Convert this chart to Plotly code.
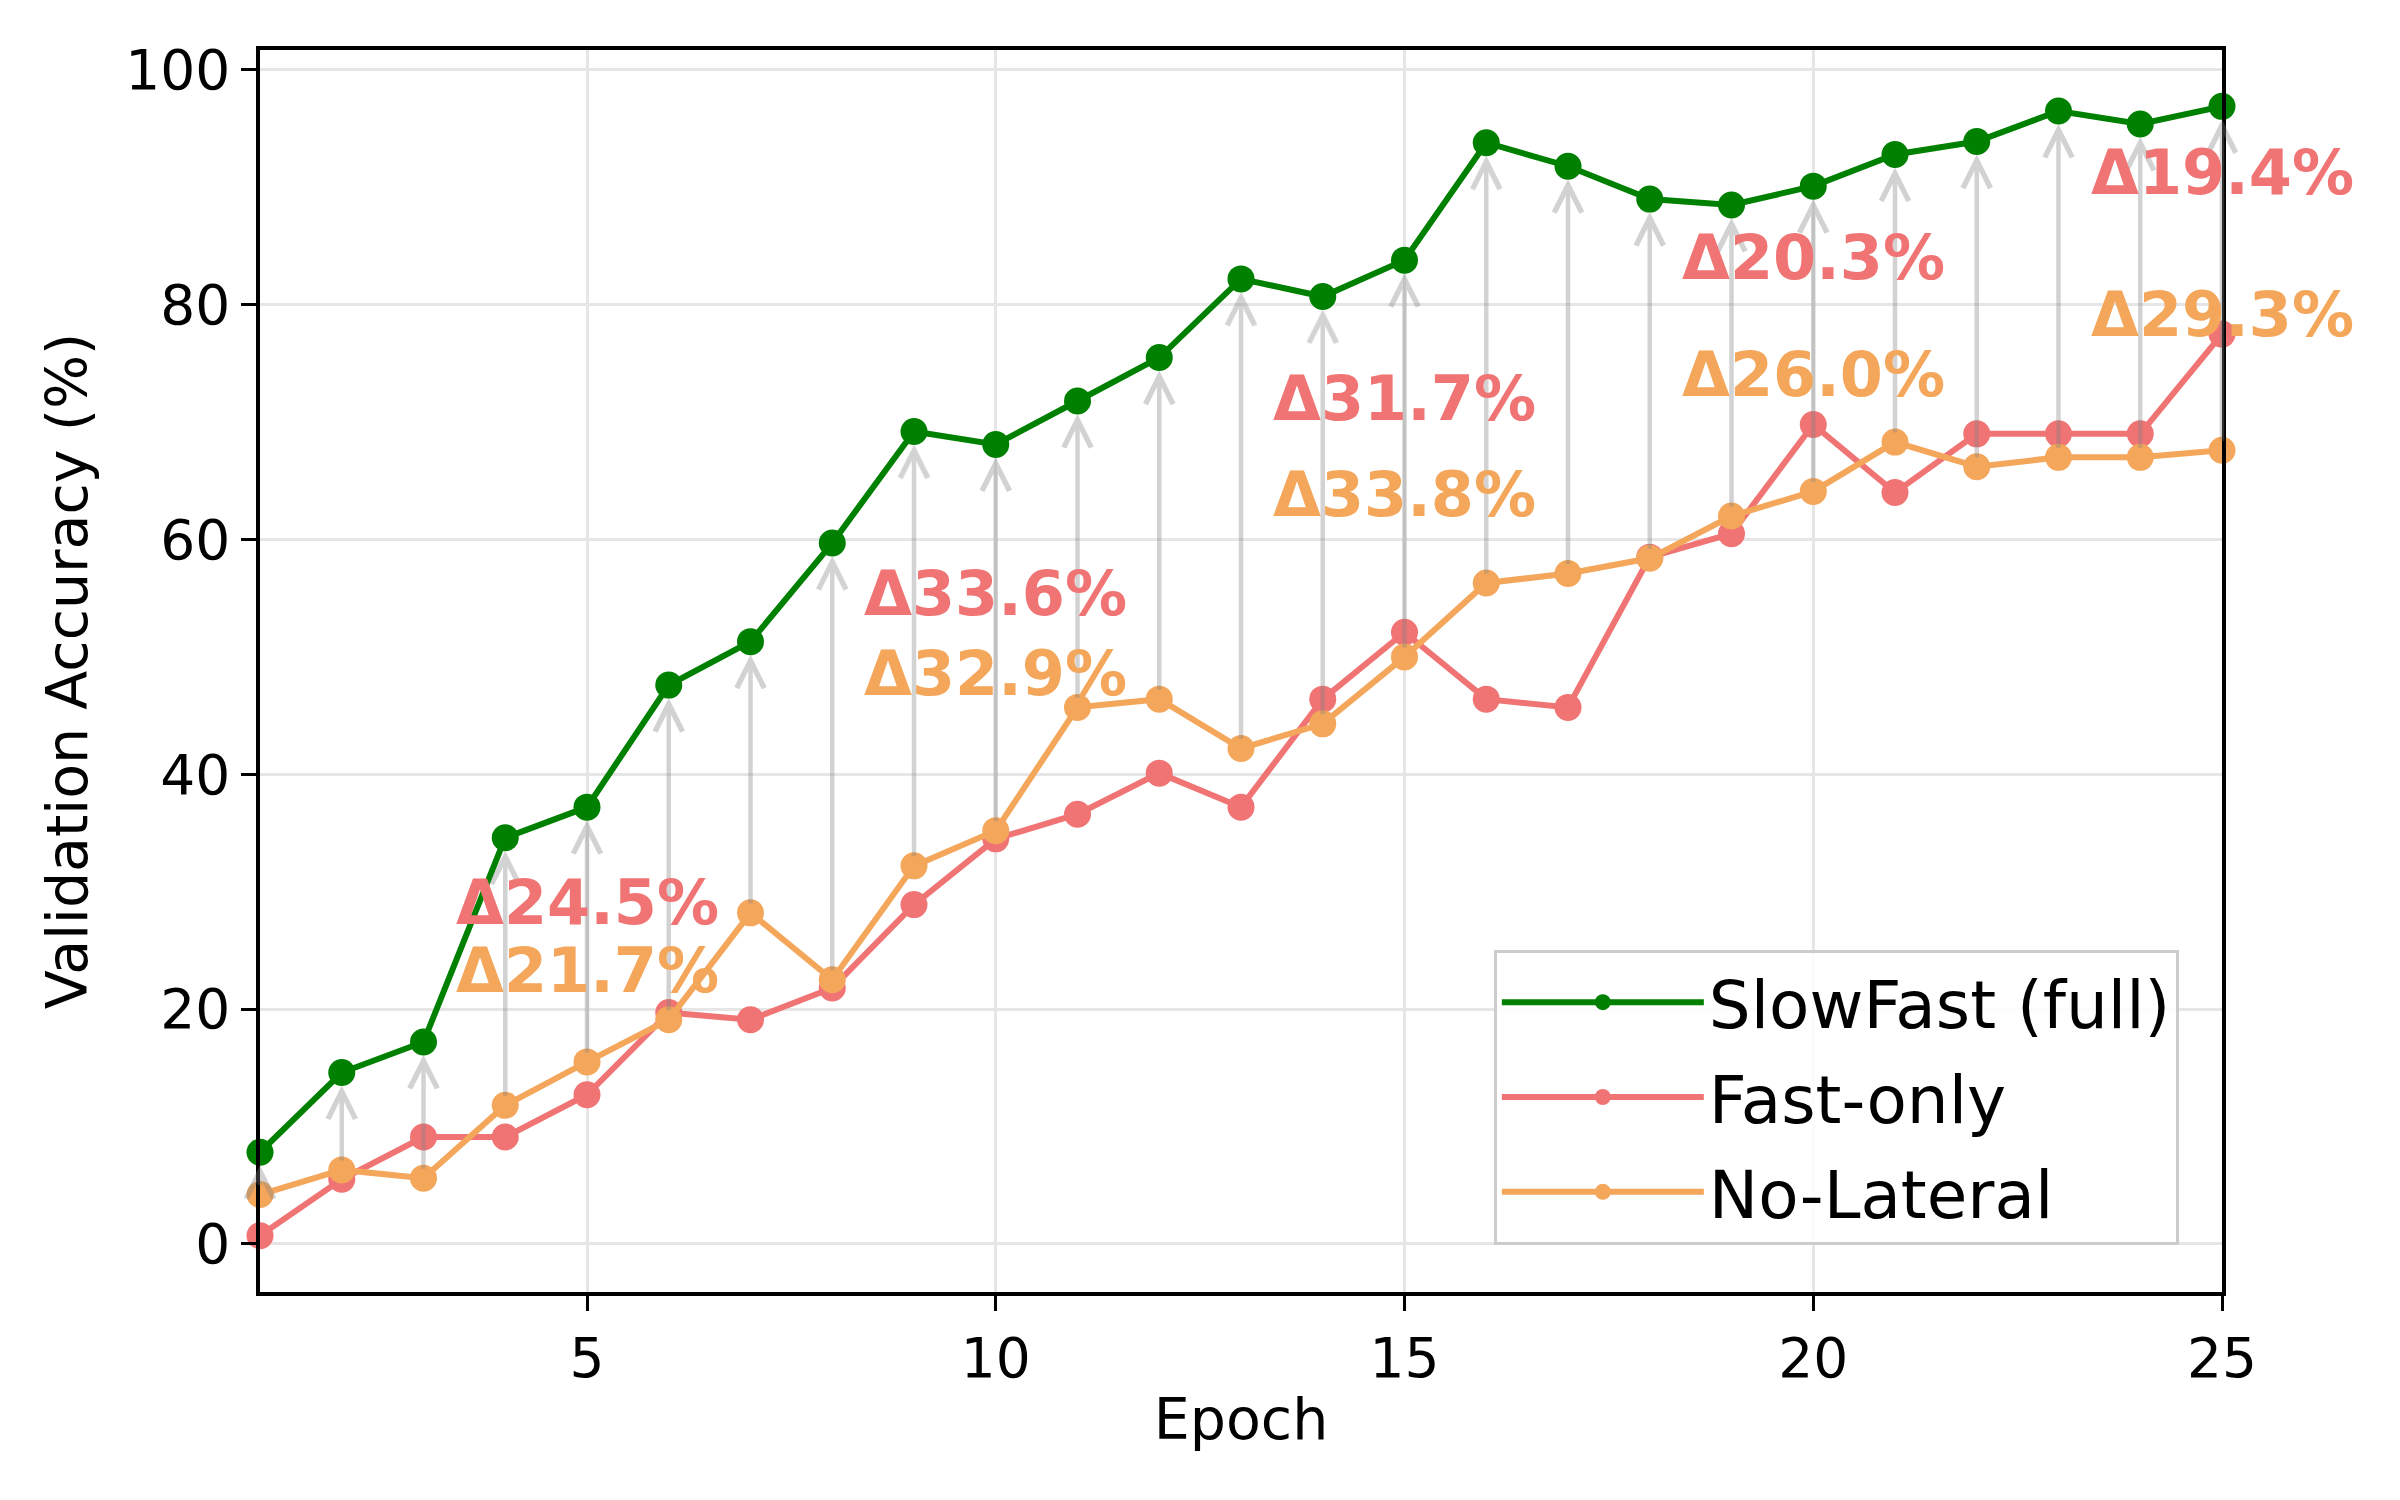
import plotly.graph_objects as go

epochs = list(range(1, 26))
slowfast = [7.8, 14.6, 17.2, 34.6, 37.2, 47.6, 51.3, 59.7, 69.2, 68.1, 71.8, 75.5, 82.2,
            80.7, 83.8, 93.8, 91.8, 89.0, 88.5, 90.1, 92.8, 93.9, 96.5, 95.4, 96.9]
fast_only = [0.7, 5.5, 9.1, 9.1, 12.7, 19.7, 19.1, 21.8, 28.9, 34.5, 36.6, 40.1, 37.2,
             46.4, 52.1, 46.4, 45.7, 58.5, 60.5, 69.8, 64.0, 69.0, 69.0, 69.0, 77.5]
no_lateral = [4.2, 6.3, 5.6, 11.8, 15.5, 19.1, 28.2, 22.5, 32.2, 35.2, 45.7, 46.4, 42.2,
              44.3, 50.0, 56.3, 57.1, 58.4, 62.0, 64.1, 68.3, 66.2, 67.0, 67.0, 67.6]
delta_epochs = [5, 10, 15, 20, 25]
x_ticks = [5, 10, 15, 20, 25]
y_ticks = [0, 20, 40, 60, 80, 100]

GREEN = "#008000"
RED = "#F07474"
ORANGE = "#F4A65A"
FONT = "DejaVu Sans"

fig = go.Figure()
for name, vals, col in [("SlowFast (full)", slowfast, GREEN),
                        ("Fast-only", fast_only, RED),
                        ("No-Lateral", no_lateral, ORANGE)]:
    fig.add_trace(go.Scatter(x=epochs, y=vals, name=name, mode="lines+markers",
                             legendgroup=name,
                             line=dict(color=col, width=6),
                             marker=dict(color=col, size=27),
                             cliponaxis=False))

annotations = []
# gray arrows from No-Lateral to SlowFast
for e, lo, hi in zip(epochs, no_lateral, slowfast):
    annotations.append(dict(x=e, y=hi, ax=e, ay=lo, xref="x", yref="y", axref="x", ayref="y",
                            text="", showarrow=True, arrowhead=5, arrowsize=1.2,
                            arrowwidth=4.5, arrowcolor="rgba(128,128,128,0.35)",
                            standoff=13, startstandoff=8))
# delta labels
for e in delta_epochs:
    i = epochs.index(e)
    g, f, n = slowfast[i], fast_only[i], no_lateral[i]
    annotations.append(dict(x=e, y=(g + f) / 2, xref="x", yref="y", text=f"Δ{g - f:.1f}%",
                            showarrow=False, xanchor="center", yanchor="middle", yshift=48,
                            font=dict(family=FONT, size=62, color=RED, weight="bold")))
    annotations.append(dict(x=e, y=(g + n) / 2, xref="x", yref="y", text=f"Δ{g - n:.1f}%",
                            showarrow=False, xanchor="center", yanchor="middle", yshift=-36,
                            font=dict(family=FONT, size=62, color=ORANGE, weight="bold")))

axis_common = dict(showgrid=True, gridcolor="#e6e6e6", gridwidth=3, zeroline=False,
                   showline=True, linecolor="black", linewidth=3.5, mirror=True,
                   ticks="outside", ticklen=15, tickwidth=3.3, tickcolor="black",
                   tickfont=dict(family=FONT, size=55, color="black"))

fig.update_layout(
    width=2400, height=1500,
    margin=dict(l=260, r=178, t=50, b=208, autoexpand=False),
    plot_bgcolor="white", paper_bgcolor="white",
    font=dict(family=FONT, color="black"),
    xaxis=dict(range=[1, 25], tickvals=x_ticks,
               title=dict(text="Epoch", font=dict(family=FONT, size=57, color="black"), standoff=11),
               **axis_common),
    yaxis=dict(range=[-4.1, 101.7], tickvals=y_ticks,
               title=dict(text="Validation Accuracy (%)", font=dict(family=FONT, size=57, color="black"), standoff=20),
               **axis_common),
    legend=dict(x=0.978, y=0.038, xanchor="right", yanchor="bottom",
                bgcolor="rgba(255,255,255,0.85)", bordercolor="#cccccc", borderwidth=3,
                font=dict(family=FONT, size=66, color="black"), itemwidth=202,
                tracegroupgap=6, traceorder="grouped"),
    annotations=annotations,
    showlegend=True,
)

fig.write_html("out.html", config={"displayModeBar": False},
               post_script="document.body.style.margin='0';")
